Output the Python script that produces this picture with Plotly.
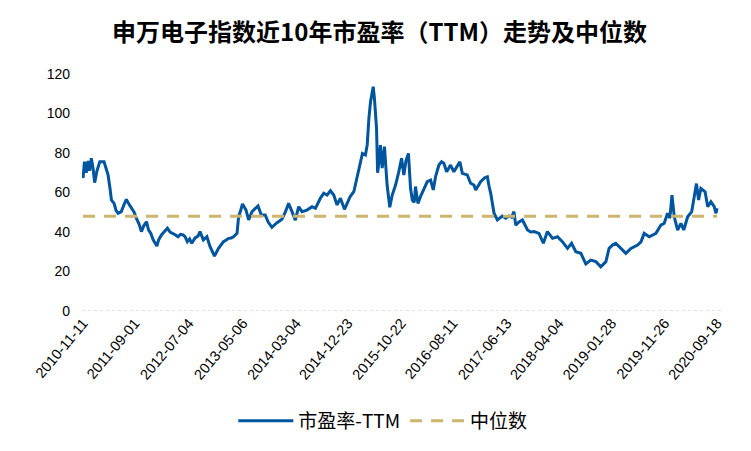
import plotly.graph_objects as go

# 申万电子指数 市盈率(TTM)
dates = [
    "2010-11-11", "2010-11-19", "2010-11-29", "2010-12-09", "2010-12-18", "2010-12-28",
    "2011-01-07", "2011-01-16", "2011-01-29", "2011-02-14", "2011-03-10", "2011-03-21",
    "2011-04-02", "2011-04-13", "2011-04-21", "2011-05-06", "2011-05-17", "2011-05-29",
    "2011-06-16", "2011-07-02", "2011-07-15", "2011-07-30", "2011-08-12", "2011-08-28",
    "2011-09-10", "2011-09-25", "2011-10-08", "2011-10-21", "2011-11-06", "2011-11-18",
    "2011-12-01", "2011-12-14", "2012-01-04", "2012-01-14", "2012-01-30", "2012-02-14",
    "2012-03-04", "2012-03-19", "2012-04-05", "2012-04-19", "2012-05-03", "2012-05-17",
    "2012-06-01", "2012-06-12", "2012-06-25", "2012-07-08", "2012-07-20", "2012-08-08",
    "2012-08-25", "2012-09-05", "2012-09-24", "2012-10-14", "2012-11-01", "2012-11-13",
    "2012-11-26", "2012-12-19", "2013-01-04", "2013-01-16", "2013-02-01", "2013-02-14",
    "2013-03-01", "2013-03-14", "2013-04-03", "2013-04-12", "2013-04-24", "2013-05-04",
    "2013-05-24", "2013-06-08", "2013-06-27", "2013-07-13", "2013-07-31", "2013-08-19",
    "2013-09-10", "2013-09-27", "2013-10-18", "2013-11-16", "2013-12-14", "2014-01-03",
    "2014-01-21", "2014-02-09", "2014-02-28", "2014-03-19", "2014-04-07", "2014-05-05",
    "2014-06-03", "2014-06-22", "2014-07-20", "2014-08-08", "2014-08-27", "2014-09-15",
    "2014-10-04", "2014-10-23", "2014-11-11", "2014-12-04", "2015-01-05", "2015-01-26",
    "2015-02-04", "2015-02-14", "2015-03-05", "2015-03-16", "2015-04-02", "2015-04-12",
    "2015-04-22", "2015-05-01", "2015-05-16", "2015-05-23", "2015-06-04", "2015-06-10",
    "2015-06-17", "2015-06-26", "2015-07-06", "2015-07-19", "2015-08-03", "2015-08-18",
    "2015-09-01", "2015-09-20", "2015-10-07", "2015-10-24", "2015-11-06", "2015-11-18",
    "2015-12-02", "2015-12-14", "2015-12-24", "2016-01-04", "2016-01-11", "2016-01-25",
    "2016-02-09", "2016-02-28", "2016-03-18", "2016-04-06", "2016-04-21", "2016-05-04",
    "2016-05-23", "2016-06-07", "2016-06-20", "2016-07-06", "2016-07-28", "2016-08-16",
    "2016-08-31", "2016-09-19", "2016-10-03", "2016-10-31", "2016-11-19", "2016-12-08",
    "2016-12-18", "2017-01-15", "2017-02-07", "2017-02-22", "2017-03-04", "2017-03-13",
    "2017-04-01", "2017-04-20", "2017-05-03", "2017-05-18", "2017-06-06", "2017-06-25",
    "2017-07-10", "2017-07-23", "2017-08-02", "2017-08-19", "2017-09-09", "2017-10-08",
    "2017-10-26", "2017-11-14", "2017-12-12", "2018-01-06", "2018-01-29", "2018-02-27",
    "2018-03-27", "2018-04-24", "2018-05-23", "2018-06-15", "2018-07-09", "2018-08-07",
    "2018-09-04", "2018-10-02", "2018-10-31", "2018-11-28", "2018-12-27", "2019-01-14",
    "2019-02-04", "2019-02-21", "2019-03-22", "2019-04-19", "2019-05-18", "2019-06-25",
    "2019-07-14", "2019-08-01", "2019-08-30", "2019-10-07", "2019-11-04", "2019-11-23",
    "2019-12-12", "2019-12-25", "2020-01-06", "2020-01-19", "2020-02-07", "2020-02-26",
    "2020-03-13", "2020-04-04", "2020-04-27", "2020-05-12", "2020-05-24", "2020-06-05",
    "2020-06-18", "2020-07-12", "2020-07-27", "2020-08-14", "2020-09-02", "2020-09-12",
    "2020-09-18",
]
pe_ttm = [
    67.3, 75.6, 70.0, 76.0, 71.0, 77.3,
    72.0, 65.0, 71.0, 75.6, 75.6, 72.0,
    68.9, 62.0, 56.2, 54.5, 51.0, 49.5,
    50.3, 54.0, 56.5, 54.0, 52.0, 50.0,
    46.9, 44.0, 40.2, 43.0, 45.2, 41.0,
    39.3, 36.0, 32.9, 36.0, 38.5, 40.0,
    41.9, 40.0, 39.3, 38.5, 37.6, 38.8,
    38.5, 37.6, 35.1, 36.5, 34.3, 37.0,
    38.0, 40.2, 36.0, 37.6, 32.6, 30.5,
    27.8, 31.7, 33.5, 35.1, 36.0, 36.8,
    37.0, 37.6, 39.3, 47.7, 51.0, 54.2,
    51.1, 46.1, 50.3, 51.5, 53.2, 48.6,
    48.6, 45.0, 42.4, 44.7, 46.4, 50.3,
    54.5, 50.3, 46.0, 52.8, 50.3, 51.1,
    52.8, 52.0, 57.1, 59.6, 58.7, 60.9,
    58.7, 53.7, 57.1, 51.5, 57.9, 60.4,
    63.8, 68.0, 76.0, 79.8, 79.0, 84.1,
    98.0, 106.0, 113.6, 107.7, 92.5, 70.0,
    75.0, 84.0, 72.3, 83.2, 63.8, 52.5,
    58.7, 63.8, 70.0, 77.3, 68.9, 76.0,
    79.8, 62.1, 56.2, 55.0, 63.0, 54.5,
    58.0, 62.1, 65.5, 66.3, 61.3, 68.0,
    73.9, 75.6, 74.8, 70.5, 73.9, 70.5,
    73.0, 75.6, 69.7, 68.9, 64.7, 63.8,
    61.3, 65.5, 67.5, 68.0, 63.0, 59.6,
    49.5, 46.1, 47.0, 48.1, 47.0, 48.1,
    47.5, 50.3, 43.5, 45.0, 46.1, 41.0,
    40.0, 40.2, 39.3, 34.3, 40.2, 36.8,
    37.6, 35.1, 31.7, 34.3, 30.0, 29.2,
    23.8, 25.8, 25.0, 22.4, 25.0, 31.7,
    33.5, 34.3, 31.7, 29.2, 31.7, 33.4,
    35.0, 39.3, 37.6, 39.3, 43.5, 44.4,
    49.5, 47.0, 58.7, 47.7, 41.0, 44.4,
    41.0, 47.7, 50.3, 59.6, 64.5, 56.2,
    62.1, 60.4, 52.8, 55.3, 52.8, 49.5,
    52.0,
]
median_pe = 48.0

tick_dates = ["2010-11-11", "2011-09-01", "2012-07-04", "2013-05-06", "2014-03-04",
              "2014-12-23", "2015-10-22", "2016-08-11", "2017-06-13", "2018-04-04",
              "2019-01-28", "2019-11-26", "2020-09-18"]

fig = go.Figure()
fig.add_trace(go.Scatter(x=dates, y=pe_ttm, mode="lines", name="市盈率-TTM",
                         line=dict(color="#00559F", width=3)))
fig.add_trace(go.Scatter(x=[dates[0], dates[-1]], y=[median_pe, median_pe], mode="lines",
                         name="中位数",
                         line=dict(color="#CDB56E", width=3, dash="12px,9px")))

# 0 处的灰色点线
fig.add_shape(type="line", xref="paper", yref="y", x0=0, x1=1, y0=0, y1=0,
              line=dict(color="#BDBDBD", width=1, dash="dot"), layer="below")

# 页面 body 有 8px 边距，所以画布取 743x443
fig.update_layout(
    width=743, height=443,
    margin=dict(l=74, r=29, t=66, b=140, autoexpand=False),
    paper_bgcolor="white", plot_bgcolor="white",
    font=dict(family="Noto Sans CJK SC", color="black"),
    title=dict(text="<b>申万电子指数近10年市盈率（TTM）走势及中位数</b>",
               x=0.5, xanchor="center", y=0.944, yanchor="middle",
               font=dict(size=24, color="black")),
    showlegend=True,
    legend=dict(orientation="h", x=0.47, xanchor="center", y=-0.464, yanchor="middle",
                font=dict(size=19), itemwidth=55),
)
fig.update_xaxes(type="date", range=["2010-11-05", "2020-10-16"],
                 tickmode="array", tickvals=tick_dates, ticktext=tick_dates,
                 tickangle=-50, tickfont=dict(size=14.5, family="Liberation Sans"),
                 showgrid=False, showline=False, zeroline=False, ticks="",
                 automargin=False)
fig.update_yaxes(range=[0, 120], dtick=20, showgrid=False, zeroline=False,
                 showline=False, ticks="", ticklabelstandoff=11, automargin=False,
                 tickfont=dict(size=14, family="Liberation Sans"))

fig.write_html("out.html")
